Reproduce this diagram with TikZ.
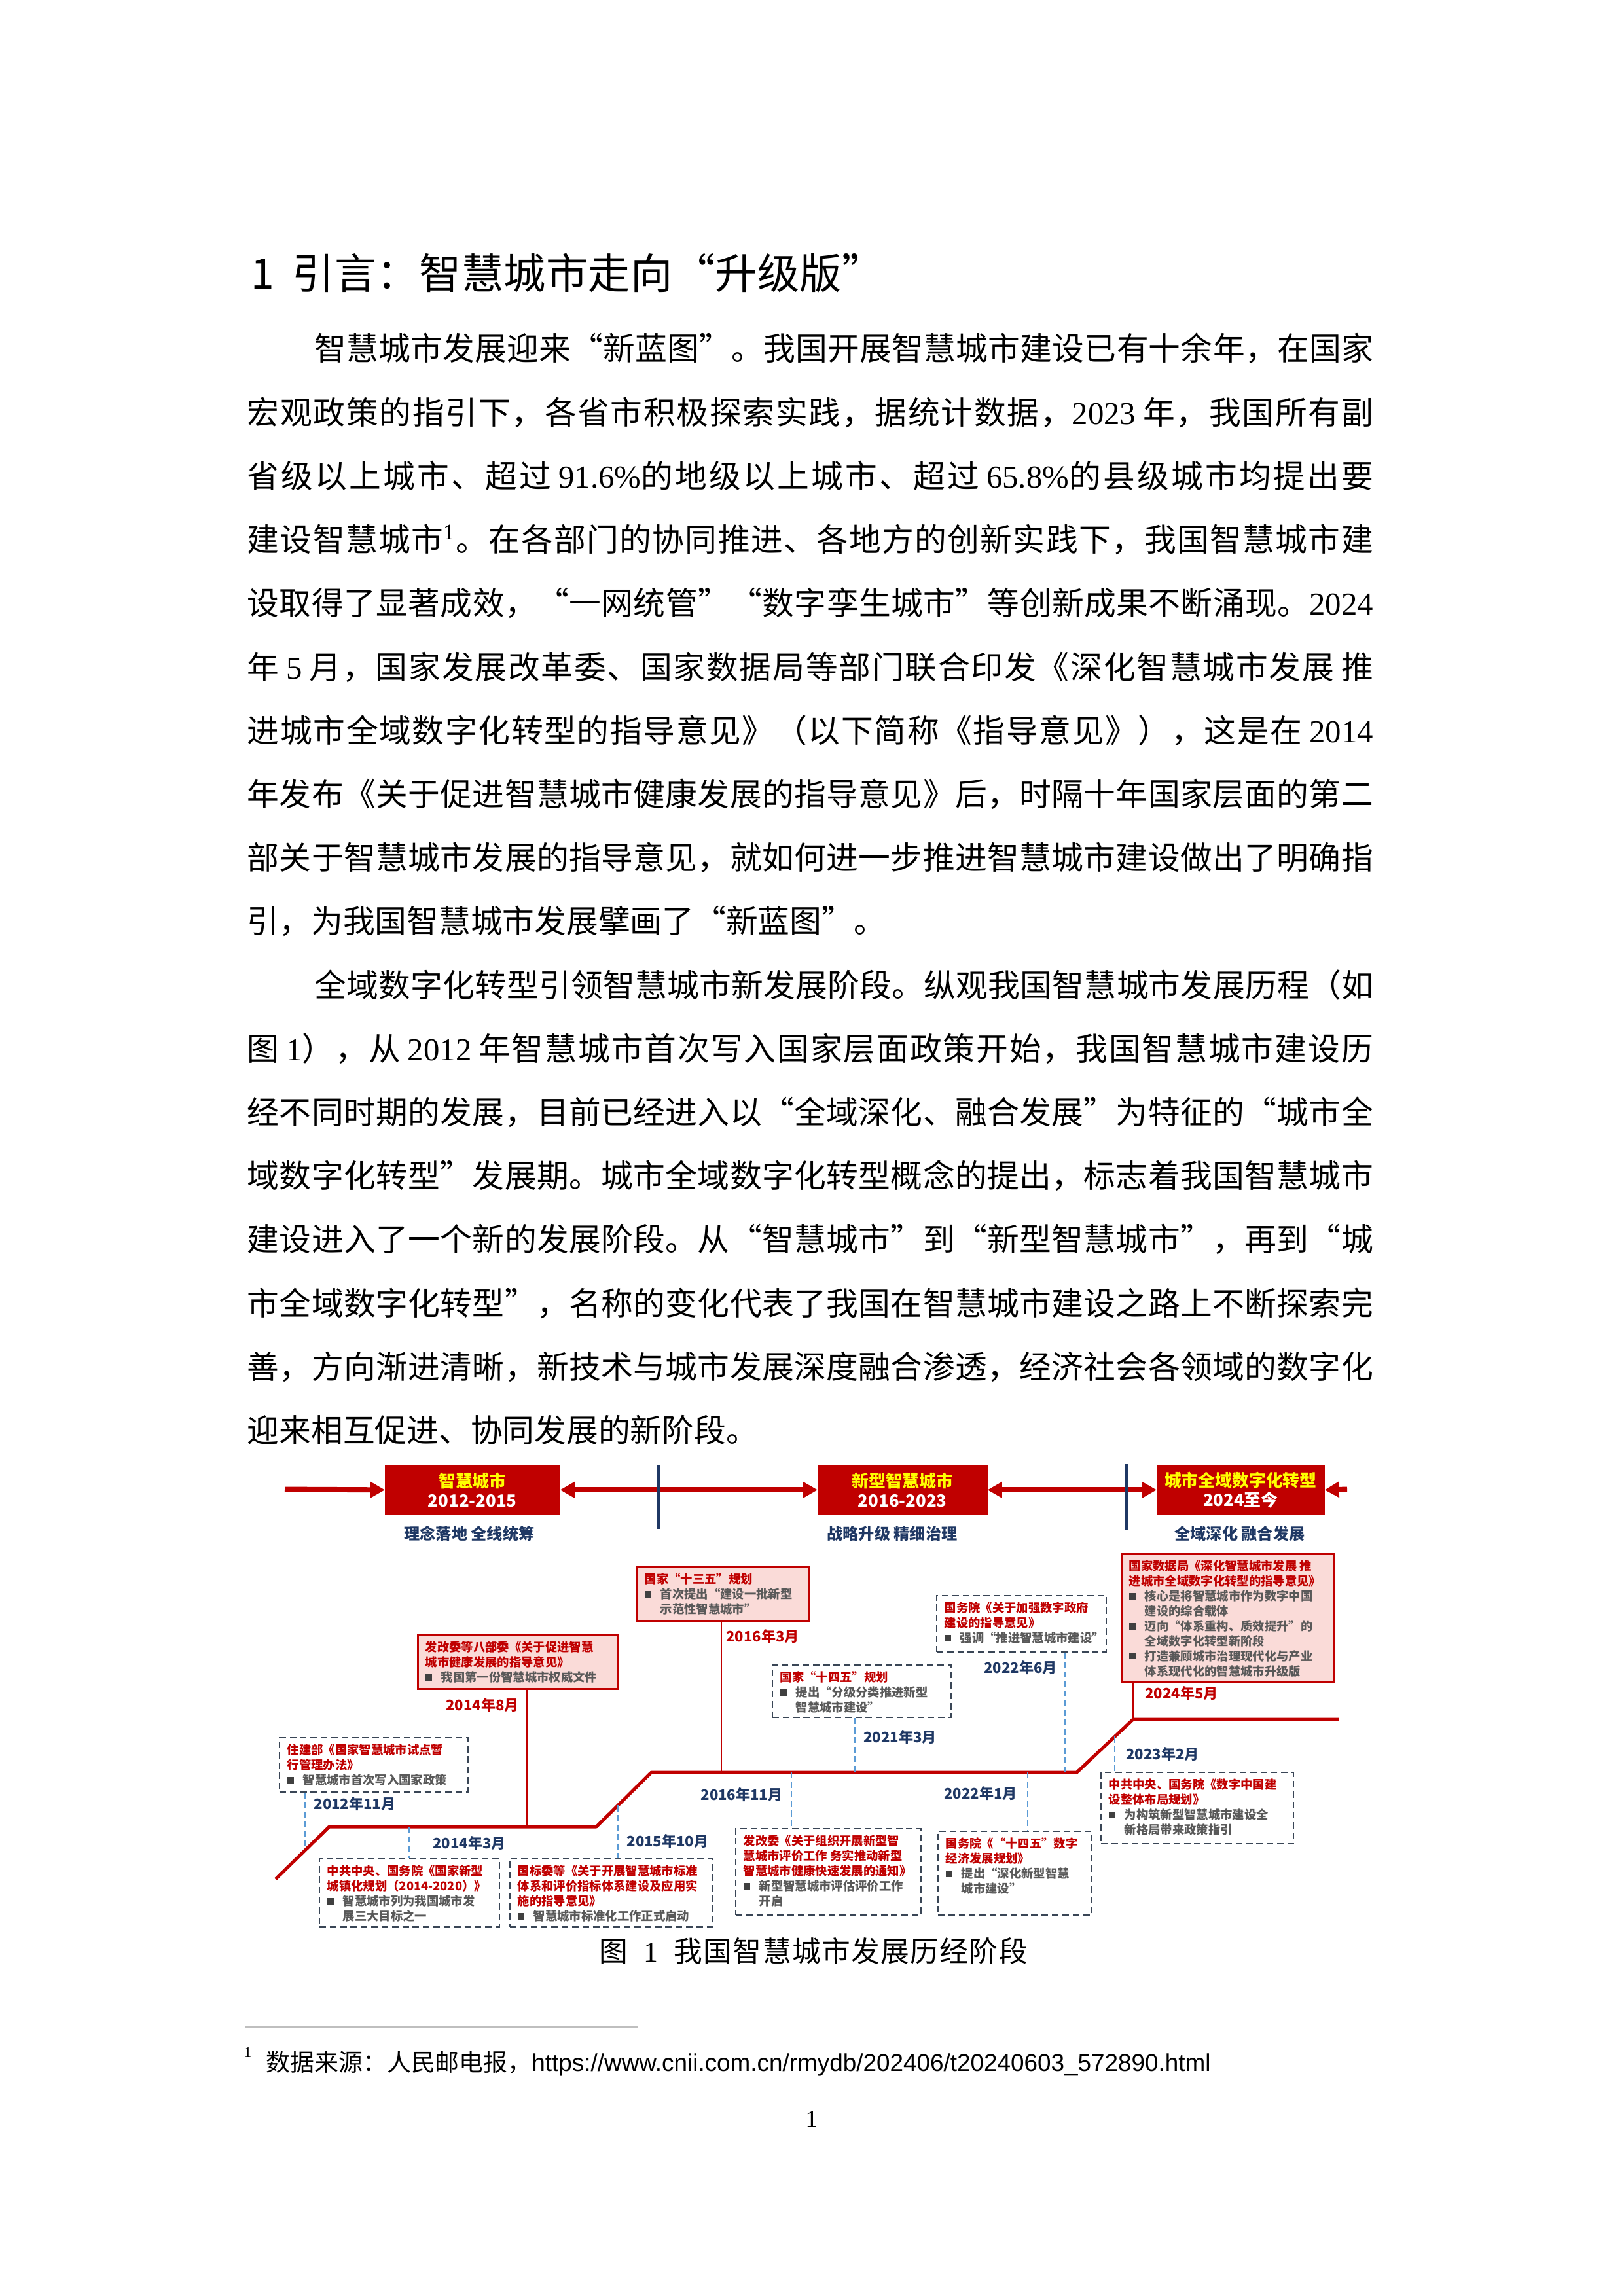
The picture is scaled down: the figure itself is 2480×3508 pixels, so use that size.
\documentclass[tikz,border=0pt]{standalone}
\usepackage{fontspec}
\setmainfont{Liberation Serif}
\newfontfamily\cjk{Noto Sans CJK SC}
\newfontfamily\lsans{Liberation Sans}
\usetikzlibrary{arrows.meta}
\definecolor{dred}{HTML}{C00000}
\definecolor{navy}{HTML}{1F3864}
\definecolor{pinkf}{HTML}{FADBD8}
\definecolor{dashc}{HTML}{3A4656}
\definecolor{bluec}{HTML}{5B9BD5}
\definecolor{bgray}{HTML}{595959}
\definecolor{bulc}{HTML}{404040}
\definecolor{yel}{HTML}{FFFF00}
\definecolor{rulec}{HTML}{BFBFBF}
% inter-character glue for justified CJK lines
\newcount\mycc
\newcommand\setcls[2]{\mycc=#1\relax\loop\XeTeXcharclass\mycc=7\relax\advance\mycc by 1\relax\ifnum\mycc<#2\relax\repeat}
\setcls{"3000}{"3040}
\setcls{"4E00}{"A000}
\setcls{"FF00}{"FFF0}
\XeTeXcharclass"201C=7
\XeTeXcharclass"201D=7
\XeTeXcharclass"2018=7
\XeTeXcharclass"2019=7
\XeTeXinterchartoks 7 7 = {\hskip 0pt plus 1fil\relax}
\XeTeXinterchartoks 7 0 = {\hskip 0pt plus 1fil\relax}
\XeTeXinterchartoks 0 7 = {\hskip 0pt plus 1fil\relax}
\newcommand\jline[2]{{\XeTeXinterchartokenstate=1 \makebox[#1][s]{#2}}}
\newcommand\numr[1]{{\rmfamily #1}}
\newcommand\ttlr[1]{\textcolor{dred}{#1}}
\newcommand\btxt[1]{\textcolor{bgray}{#1}}
\newcommand\bsq{\makebox[1.3em][l]{\textcolor{bulc}{\rule[0.1em]{0.55em}{0.55em}}}}
\newcommand\hgi{\hspace*{1.3em}}
\tikzset{
  body/.style={anchor=base west, inner sep=0pt, font=\fontsize{11.7pt}{14pt}\cjk},
  stagebox/.style={fill=dred, draw=dred, inner sep=0pt, anchor=north west, minimum height=18pt, align=center, font=\fontsize{6.2pt}{7.2pt}\cjk\bfseries},
  stagelab/.style={text=navy, inner sep=0pt, font=\fontsize{5.8pt}{6.5pt}\cjk\bfseries},
  solidbox/.style={draw=dred, line width=0.7pt, fill=pinkf, inner sep=0pt, anchor=north west},
  dashbox/.style={draw=dashc, line width=0.45pt, dash pattern=on 2.4pt off 1.4pt, fill=white, inner sep=0pt, anchor=north west},
  evtext/.style={anchor=north west, inner sep=0pt, align=left, font=\fontsize{4.4pt}{5.5pt}\cjk\bfseries},
  yrnavy/.style={inner sep=0pt, text=navy, font=\fontsize{5.3pt}{6pt}\cjk\bfseries},
  yrred/.style={inner sep=0pt, text=dred, font=\fontsize{5.3pt}{6pt}\cjk\bfseries},
  tline/.style={draw=dred, line width=1.2pt, line join=round},
  redv/.style={draw=dred, line width=0.6pt},
  bdash/.style={draw=bluec, line width=0.5pt, dash pattern=on 2.2pt off 1.3pt},
  stagearr/.style={draw=dred, line width=1.9pt},
  navyline/.style={draw=navy, line width=0.8pt},
  tri/.tip={Triangle[length=5.3pt,width=5.6pt]}
}
\begin{document}
\begin{tikzpicture}[x=0.24pt,y=-0.24pt]
\useasboundingbox (0,0) rectangle (2480,3508);
\fill[white] (0,0) rectangle (2480,3508);

% ---------- heading ----------
\node[anchor=base west, inner sep=0pt, font=\fontsize{15.4pt}{18pt}\cjk] (hd) at (383,442)
  {\makebox[15.1pt][l]{1}\jline{216.96pt}{引言：智慧城市走向“升级版”}};

% ---------- body text ----------
\node[body] (l1) at (480,551) {\jline{388.08pt}{智慧城市发展迎来“新蓝图”。我国开展智慧城市建设已有十余年，在国家}};
\node[body] (l2) at (377,648.2) {\jline{412.8pt}{宏观政策的指引下，各省市积极探索实践，据统计数据，\numr{2023} 年，我国所有副}};
\node[body] (l3) at (377,745.4) {\jline{412.8pt}{省级以上城市、超过 \numr{91.6\%}的地级以上城市、超过 \numr{65.8\%}的县级城市均提出要}};
\node[body] (l4) at (377,842.6) {\jline{412.8pt}{建设智慧城市\textsuperscript{\numr{1}}。在各部门的协同推进、各地方的创新实践下，我国智慧城市建}};
\node[body] (l5) at (377,939.8) {\jline{412.8pt}{设取得了显著成效，“一网统管”“数字孪生城市”等创新成果不断涌现。\numr{2024}}};
\node[body] (l6) at (377,1037) {\jline{412.8pt}{年 \numr{5} 月，国家发展改革委、国家数据局等部门联合印发《深化智慧城市发展 推}};
\node[body] (l7) at (377,1134.2) {\jline{412.8pt}{进城市全域数字化转型的指导意见》（以下简称《指导意见》），这是在 \numr{2014}}};
\node[body] (l8) at (377,1231.4) {\jline{412.8pt}{年发布《关于促进智慧城市健康发展的指导意见》后，时隔十年国家层面的第二}};
\node[body] (l9) at (377,1328.6) {\jline{412.8pt}{部关于智慧城市发展的指导意见，就如何进一步推进智慧城市建设做出了明确指}};
\node[body] (l10) at (377,1425.8) {\jline{234pt}{引，为我国智慧城市发展擘画了“新蓝图”。}};
\node[body] (l11) at (480,1523) {\jline{388.08pt}{全域数字化转型引领智慧城市新发展阶段。纵观我国智慧城市发展历程（如}};
\node[body] (l12) at (377,1620.2) {\jline{412.8pt}{图 \numr{1}），从 \numr{2012} 年智慧城市首次写入国家层面政策开始，我国智慧城市建设历}};
\node[body] (l13) at (377,1717.4) {\jline{412.8pt}{经不同时期的发展，目前已经进入以“全域深化、融合发展”为特征的“城市全}};
\node[body] (l14) at (377,1814.6) {\jline{412.8pt}{域数字化转型”发展期。城市全域数字化转型概念的提出，标志着我国智慧城市}};
\node[body] (l15) at (377,1911.8) {\jline{412.8pt}{建设进入了一个新的发展阶段。从“智慧城市”到“新型智慧城市”，再到“城}};
\node[body] (l16) at (377,2009) {\jline{412.8pt}{市全域数字化转型”，名称的变化代表了我国在智慧城市建设之路上不断探索完}};
\node[body] (l17) at (377,2106.2) {\jline{412.8pt}{善，方向渐进清晰，新技术与城市发展深度融合渗透，经济社会各领域的数字化}};
\node[body] (l18) at (377,2203.4) {\jline{185.5pt}{迎来相互促进、协同发展的新阶段。}};

% ---------- stage boxes ----------
\node[stagebox, minimum width=63.84pt] (s1) at (588,2238) {\textcolor{yel}{智慧城市}\\\textcolor{white}{2012-2015}};
\node[stagebox, minimum width=61.92pt] (s2) at (1249,2238) {\textcolor{yel}{新型智慧城市}\\\textcolor{white}{2016-2023}};
\node[stagebox, minimum width=61.2pt] (s3) at (1767,2238) {\textcolor{yel}{城市全域数字化转型}\\\textcolor{white}{2024至今}};
\coordinate (a0) at (435,2275.5);
\coordinate (a4) at (2058,2275.5);
\draw[stagearr, -tri] (a0) -- (s1.west);
\draw[stagearr, tri-tri] (s1.east) -- (s2.west);
\draw[stagearr, tri-tri] (s2.east) -- (s3.west);
\draw[stagearr, -tri] (a4) -- (s3.east);
\draw[navyline] (1006,2238) -- (1006,2336);
\draw[navyline] (1721,2237) -- (1721,2337);
\node[stagelab] (g1) at (717,2343) {理念落地 全线统筹};
\node[stagelab] (g2) at (1363,2343) {战略升级 精细治理};
\node[stagelab] (g3) at (1894,2343) {全域深化 融合发展};

% ---------- event boxes ----------
\node[dashbox, minimum width=69.12pt, minimum height=19.92pt] (A) at (426,2654) {};
\node[evtext] (At) at (438,2664) {\ttlr{住建部《国家智慧城市试点暂}\\\ttlr{行管理办法》}\\\bsq\btxt{智慧城市首次写入国家政策}};

\node[dashbox, minimum width=66pt, minimum height=24.96pt] (B) at (487,2839) {};
\node[evtext] (Bt) at (499,2849) {\ttlr{中共中央、国务院《国家新型}\\\ttlr{城镇化规划（2014-2020）》}\\\bsq\btxt{智慧城市列为我国城市发}\\\hgi\btxt{展三大目标之一}};

\node[solidbox, minimum width=73.44pt, minimum height=19.68pt] (C) at (637,2497) {};
\node[evtext] (Ct) at (649,2507) {\ttlr{发改委等八部委《关于促进智慧}\\\ttlr{城市健康发展的指导意见》}\\\bsq\btxt{我国第一份智慧城市权威文件}};

\node[dashbox, minimum width=74.4pt, minimum height=24.96pt] (D) at (778,2839) {};
\node[evtext] (Dt) at (790,2849) {\ttlr{国标委等《关于开展智慧城市标准}\\\ttlr{体系和评价指标体系建设及应用实}\\\ttlr{施的指导意见》}\\\bsq\btxt{智慧城市标准化工作正式启动}};

\node[solidbox, minimum width=62.88pt, minimum height=19.68pt] (E) at (972,2393) {};
\node[evtext] (Et) at (984,2403) {\ttlr{国家“十三五”规划}\\\bsq\btxt{首次提出“建设一批新型}\\\hgi\btxt{示范性智慧城市”}};

\node[dashbox, minimum width=67.92pt, minimum height=31.68pt] (F) at (1123,2793) {};
\node[evtext] (Ft) at (1135,2803) {\ttlr{发改委《关于组织开展新型智}\\\ttlr{慧城市评价工作 务实推动新型}\\\ttlr{智慧城市健康快速发展的通知》}\\\bsq\btxt{新型智慧城市评估评价工作}\\\hgi\btxt{开启}};

\node[dashbox, minimum width=65.52pt, minimum height=19.2pt] (G) at (1179,2543) {};
\node[evtext] (Gt) at (1191,2553) {\ttlr{国家“十四五”规划}\\\bsq\btxt{提出“分级分类推进新型}\\\hgi\btxt{智慧城市建设”}};

\node[dashbox, minimum width=56.4pt, minimum height=30.72pt] (H) at (1432,2797) {};
\node[evtext] (Ht) at (1444,2807) {\ttlr{国务院《“十四五”数字}\\\ttlr{经济发展规划》}\\\bsq\btxt{提出“深化新型智慧}\\\hgi\btxt{城市建设”}};

\node[dashbox, minimum width=62.16pt, minimum height=20.64pt] (I) at (1430,2437) {};
\node[evtext] (It) at (1442,2447) {\ttlr{国务院《关于加强数字政府}\\\ttlr{建设的指导意见》}\\\bsq\btxt{强调“推进智慧城市建设”}};

\node[dashbox, minimum width=70.56pt, minimum height=26.16pt] (J) at (1681,2707) {};
\node[evtext] (Jt) at (1693,2717) {\ttlr{中共中央、国务院《数字中国建}\\\ttlr{设整体布局规划》}\\\bsq\btxt{为构筑新型智慧城市建设全}\\\hgi\btxt{新格局带来政策指引}};

\node[solidbox, minimum width=77.76pt, minimum height=46.8pt] (K) at (1712,2373) {};
\node[evtext] (Kt) at (1724,2383) {\ttlr{国家数据局《深化智慧城市发展 推}\\\ttlr{进城市全域数字化转型的指导意见》}\\\bsq\btxt{核心是将智慧城市作为数字中国}\\\hgi\btxt{建设的综合载体}\\\bsq\btxt{迈向“体系重构、质效提升”的}\\\hgi\btxt{全域数字化转型新阶段}\\\bsq\btxt{打造兼顾城市治理现代化与产业}\\\hgi\btxt{体系现代化的智慧城市升级版}};

% ---------- timeline ----------
\coordinate (t0) at (421,2871);
\coordinate (t1) at (503,2791);
\coordinate (t2) at (911,2791);
\coordinate (t3) at (995,2708);
\coordinate (t4) at (1645,2708);
\coordinate (t5) at (1731,2627);
\coordinate (t6) at (2045,2627);
\draw[tline] (t0) -- (t1) -- (t2) -- (t3) -- (t4) -- (t5) -- (t6);

% connectors
\coordinate (tA) at (466,2827);
\coordinate (tB) at (625,2791);
\coordinate (tC) at (805,2791);
\coordinate (tD) at (944,2758.4);
\coordinate (tE) at (1102,2708);
\coordinate (tF) at (1209,2708);
\coordinate (tG) at (1306,2708);
\coordinate (tH) at (1570,2708);
\coordinate (tI) at (1627,2708);
\coordinate (tJ) at (1703,2653.4);
\coordinate (tK) at (1731,2627);
\draw[bdash] (A.south -| tA) -- (tA);
\draw[bdash] (tB) -- (B.north -| tB);
\draw[redv] (C.south -| tC) -- (tC);
\draw[bdash] (tD) -- (D.north -| tD);
\draw[redv] (E.south -| tE) -- (tE);
\draw[bdash] (tF) -- (F.north -| tF);
\draw[bdash] (G.south -| tG) -- (tG);
\draw[bdash] (tH) -- (H.north -| tH);
\draw[bdash] (I.south -| tI) -- (tI);
\draw[bdash] (tJ) -- (J.north -| tJ);
\draw[redv] (K.south -| tK) -- (tK);

% year labels
\node[yrnavy] (yA) at (542,2756) {2012年11月};
\node[yrnavy] (yB) at (717,2816) {2014年3月};
\node[yrred]  (yC) at (737,2605) {2014年8月};
\node[yrnavy] (yD) at (1020,2813) {2015年10月};
\node[yrred]  (yE) at (1165,2500) {2016年3月};
\node[yrnavy] (yF) at (1133,2742) {2016年11月};
\node[yrnavy] (yG) at (1375,2654) {2021年3月};
\node[yrnavy] (yH) at (1498,2740) {2022年1月};
\node[yrnavy] (yI) at (1559,2548) {2022年6月};
\node[yrnavy] (yJ) at (1776,2680) {2023年2月};
\node[yrred]  (yK) at (1805,2587) {2024年5月};

% ---------- caption ----------
\node[anchor=base west, inner sep=0pt, font=\fontsize{10.5pt}{12pt}\cjk] (cap) at (915,2997)
  {\jline{156.96pt}{图\hspace{0.55em}\numr{1}\hspace{0.55em}我国智慧城市发展历经阶段}};

% ---------- footnote ----------
\draw[draw=rulec, line width=0.6pt] (375,3097) -- (975,3097);
\node[anchor=base west, inner sep=0pt, font=\fontsize{5.5pt}{6pt}\selectfont] (fnm) at (372,3143) {1};
\node[anchor=base west, inner sep=0pt, font=\fontsize{8.85pt}{11pt}\cjk] (fn) at (406,3164)
  {数据来源：人民邮电报，{\lsans https://www.cnii.com.cn/rmydb/202406/t20240603\_572890.html}};
\node[inner sep=0pt, font=\fontsize{9pt}{11pt}\selectfont] (pg) at (1240,3238) {1};
\end{tikzpicture}
\end{document}
